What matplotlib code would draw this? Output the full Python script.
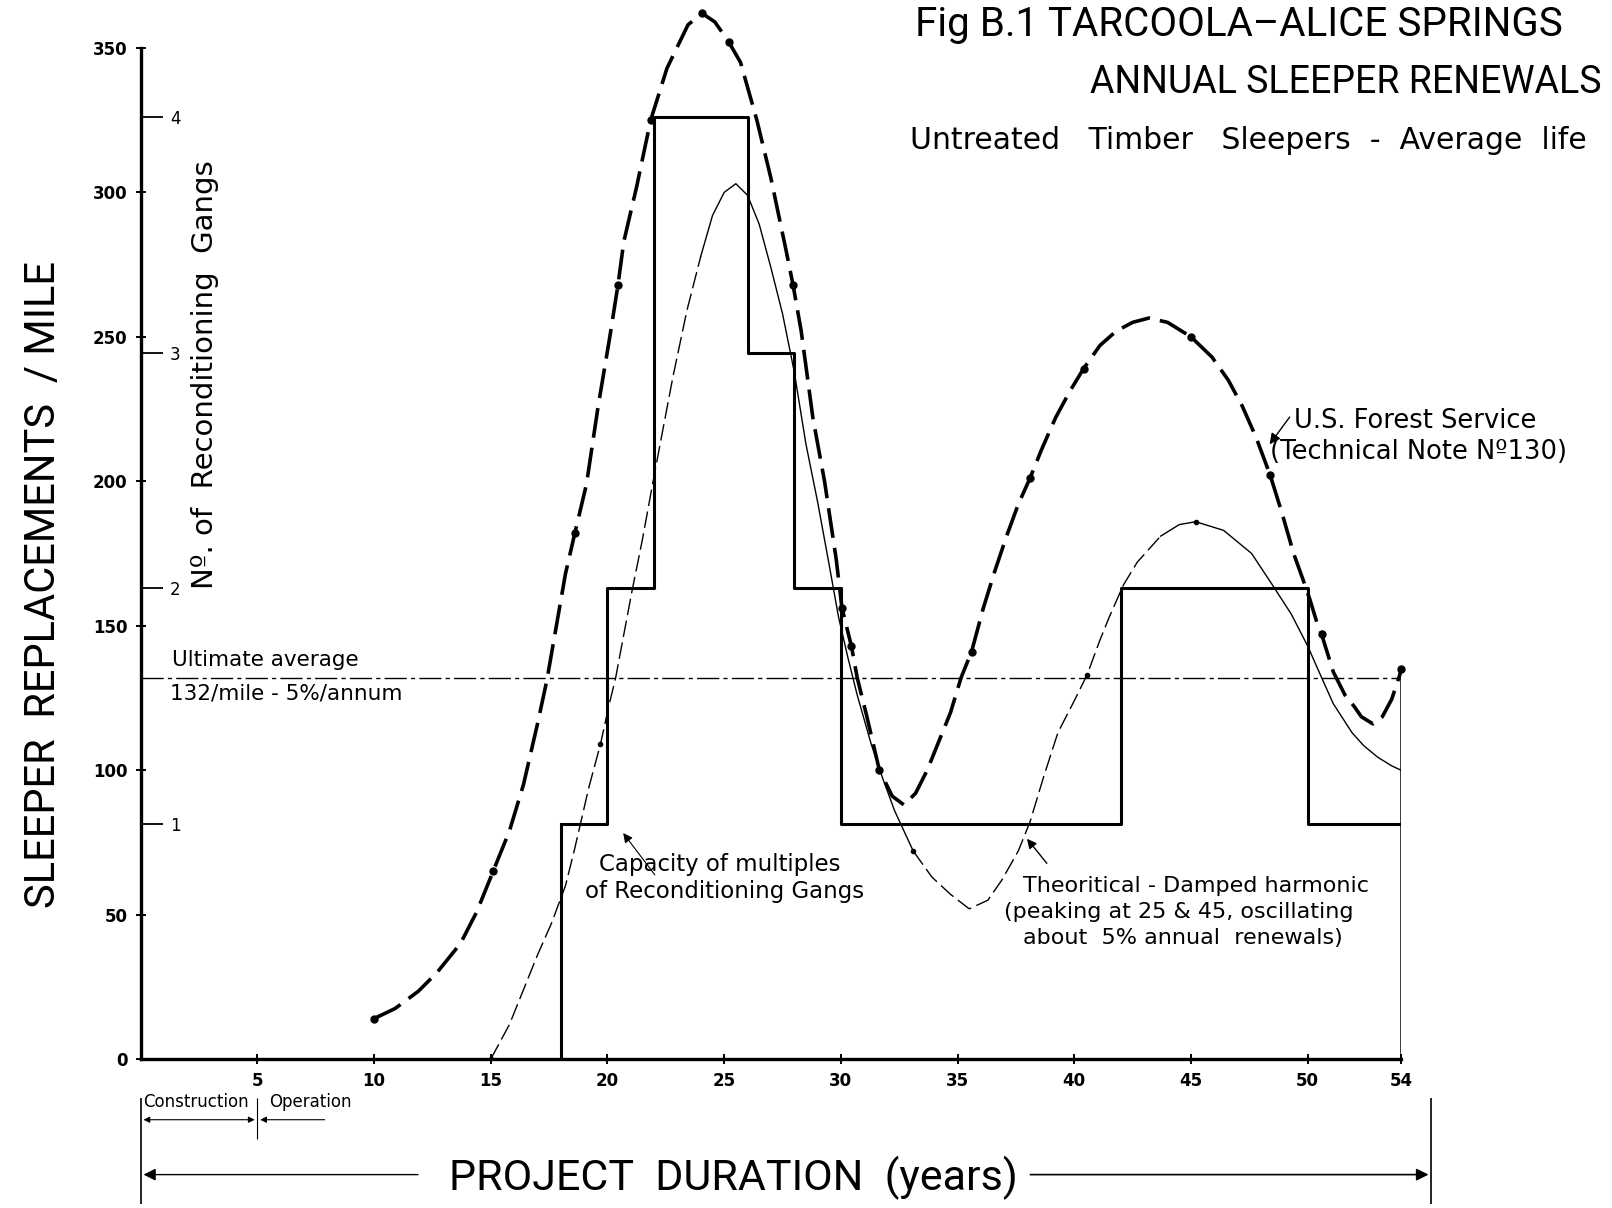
import matplotlib
matplotlib.use("Agg")
import matplotlib.pyplot as plt
import numpy as np

# ---------------- data ----------------
GANG = 81.5          # sleepers/mile handled by one reconditioning gang
ULT_AVG = 132        # ultimate average renewals per mile

step_years = [18, 20, 22, 26, 28, 30, 42, 50, 54]
step_gangs = [1, 2, 4, 3, 2, 1, 2, 1, 1]

# U.S. Forest Service curve (heavy dashed)
fs_x = [10.0, 10.9, 11.9, 12.7, 13.7, 14.4, 15.1, 15.8, 16.4, 17.0, 17.4, 18.2, 18.6,
        19.1, 19.6, 20.1, 20.45, 20.7, 21.25, 21.85, 22.55, 23.45, 24.05, 24.6, 25.2,
        25.7, 26.4, 27.0, 27.65, 27.95, 28.3, 28.8, 29.3, 29.8, 30.05, 30.45, 30.7,
        31.1, 31.65, 32.2, 32.7, 33.2, 33.7, 34.2, 34.7, 35.15, 35.6, 36.1, 36.6, 37.1,
        37.6, 38.1, 38.6, 39.2, 39.8, 40.4, 41.1, 41.8, 42.5, 43.2, 44.0, 45.0, 45.9,
        46.6, 47.2, 47.8, 48.4, 48.9, 49.4, 49.8, 50.1, 50.4, 50.6, 51.1, 51.6, 52.0,
        52.3, 52.8, 53.2, 53.6, 53.95, 54.0]
fs_y = [14, 17.5, 23.5, 30, 40, 51, 65, 79, 95, 116, 131, 168, 182,
        199, 226, 250, 268, 283, 302, 325, 343, 358, 362, 359, 352,
        345, 325, 305, 280, 268, 252, 222, 200, 173, 156, 143, 132,
        119, 100, 91, 88, 92, 100, 110, 120, 132, 141, 156, 169, 181,
        192, 201, 211, 222, 231, 239, 247, 252, 255, 256.5, 255, 250, 243,
        235, 226, 215, 202, 189, 175, 166, 159, 151, 147, 134, 126, 122,
        118.5, 116, 118.5, 124.5, 133, 135]
fs_dot_x = [10.0, 15.1, 18.6, 20.45, 21.85, 24.05, 25.2, 27.95, 30.05, 30.45, 31.65,
            35.6, 38.1, 40.4, 45.0, 48.4, 50.6, 54.0]
fs_dot_y = [14, 65, 182, 268, 325, 362, 352, 268, 156, 143, 100,
            141, 201, 239, 250, 202, 147, 135]

# Theoretical damped harmonic (thin line)
th_x = [15.0, 15.8, 16.4, 17.0, 17.6, 18.2, 18.6, 19.2, 19.7, 20.05, 20.35, 20.7, 21.05,
        21.5, 22.0, 22.8, 23.4, 24.0, 24.5, 25.0, 25.5, 26.0, 26.5, 27.0, 27.5, 28.0,
        28.5, 29.0, 29.5, 29.9, 30.3, 30.7, 31.3, 31.8, 32.3, 32.7, 33.1, 33.9, 34.7,
        35.5, 36.3, 36.9, 37.6, 38.1, 38.7, 39.3, 40.0, 40.55, 41.1, 41.5, 42.1, 42.7,
        43.7, 44.5, 45.2, 46.4, 47.6, 48.5, 49.3, 50.0, 50.6, 51.1, 51.5, 51.9, 52.4,
        53.0, 53.6, 54.0]
th_y = [0, 12, 24, 36, 47, 60, 73, 94, 109, 122, 132, 147, 162,
        180, 202, 236, 259, 278, 292, 300, 303, 299, 289, 274, 258, 238,
        213, 193, 171, 153, 139, 126, 109, 97, 86, 79, 72, 63, 57,
        52, 55, 62, 72, 82, 98, 113, 124, 133, 145, 153, 164, 172,
        181, 185, 186, 183, 175, 164, 154, 143, 132, 123, 118, 113, 108.5,
        104.5, 101.5, 100]
th_dot_x = [15.0, 19.7, 33.1, 40.55, 45.2]
th_dot_y = [0, 109, 72, 133, 186]

x_ticks = [5, 10, 15, 20, 25, 30, 35, 40, 45, 50, 54]
y_ticks = [0, 50, 100, 150, 200, 250, 300, 350]
gang_ticks = [1, 2, 3, 4]

# ---------------- drawing ----------------
TITLE = ["Roboto", "DejaVu Sans"]
HAND = ["DejaVu Sans"]

fig = plt.figure(figsize=(16.12, 12.08), dpi=100)
ax = fig.add_axes([0.0873, 0.1233, 0.7818, 0.8729])
ax.set_xlim(0, 54)
ax.set_ylim(0, 365)

for s in ("top", "right"):
    ax.spines[s].set_visible(False)
ax.spines["left"].set_bounds(0, 350)
ax.spines["left"].set_linewidth(2.4)
ax.spines["bottom"].set_linewidth(2.4)

ax.set_xticks(x_ticks)
ax.set_xticklabels([str(t) for t in x_ticks], fontsize=12, fontweight="bold")
ax.set_yticks(y_ticks)
ax.set_yticklabels([str(t) for t in y_ticks], fontsize=12, fontweight="bold")
ax.tick_params(axis="both", direction="inout", length=7, width=1.4, pad=6)

# gang scale on the same vertical axis, ticks pointing right
ax2 = ax.twinx()
ax2.set_ylim(0, 365 / GANG)
for s in ax2.spines.values():
    s.set_visible(False)
ax2.spines["right"].set_position(("axes", 0))
ax2.set_yticks(gang_ticks)
ax2.set_yticklabels([str(g) for g in gang_ticks], fontsize=12)
ax2.tick_params(axis="y", direction="out", length=16, width=1.3, pad=5)

# step function of gang capacity
step_vals = np.array(step_gangs) * GANG
ax.step(step_years, step_vals, where="post", color="black", lw=2.2)
ax.vlines(step_years[0], 0, step_vals[0], color="black", lw=2.2)
ax.vlines(step_years[-1], 0, fs_y[-1], color="black", lw=1.8)

# ultimate average line
ax.hlines(ULT_AVG, 0, 54, color="black", lw=1.0, linestyles=[(0, (16, 3, 3, 3))])

# U.S. Forest Service curve
ax.plot(fs_x, fs_y, color="black", lw=2.6, dashes=(8.3, 2.8), clip_on=False)
ax.plot(fs_dot_x, fs_dot_y, "o", color="black", ms=5, ls="none", clip_on=False)

# theoretical curve: dashed on rising parts, solid on falling parts
thx = np.array(th_x)
thy = np.array(th_y)
def seg(a, b):
    m = (thx >= a) & (thx <= b)
    return thx[m], thy[m]
for a, b in [(15.0, 24.0), (33.1, 43.7)]:
    xs, ys = seg(a, b)
    ax.plot(xs, ys, color="black", lw=1.0, dashes=(12, 4))
for a, b in [(24.0, 33.1), (43.7, 54.0)]:
    xs, ys = seg(a, b)
    ax.plot(xs, ys, color="black", lw=1.0)
ax.plot(th_dot_x, th_dot_y, "o", color="black", ms=3, ls="none")

# ---- annotations inside the plot ----
ax.text(1.35, 134.5, "Ultimate average", fontsize=15.5, family=HAND, va="bottom")
ax.text(1.25, 130, "132/mile - 5%/annum", fontsize=15.5, family=HAND, va="top")

ax.text(19.65, 67.5, "Capacity of multiples", fontsize=16.5, family=HAND, va="center")
ax.text(19.05, 58.0, "of Reconditioning Gangs", fontsize=16.5, family=HAND, va="center")
ax.annotate("", xy=(20.6, 79), xytext=(22.1, 63),
            arrowprops=dict(arrowstyle="-|>", color="black", lw=0.8, mutation_scale=14))

ax.text(37.8, 60, "Theoritical - Damped harmonic", fontsize=16, family=HAND, va="center")
ax.text(37.0, 51, "(peaking at 25 & 45, oscillating", fontsize=16, family=HAND, va="center")
ax.text(37.8, 42, "about  5% annual  renewals)", fontsize=16, family=HAND, va="center")
ax.annotate("", xy=(37.9, 77), xytext=(38.9, 67),
            arrowprops=dict(arrowstyle="-|>", color="black", lw=1.0, mutation_scale=14))

ax.text(49.4, 221, "U.S. Forest Service", fontsize=18.5, family=HAND, va="center")
ax.text(48.4, 210, "(Technical Note Nº130)", fontsize=18.5, family=HAND, va="center")
ax.annotate("", xy=(48.3, 212), xytext=(49.3, 223),
            arrowprops=dict(arrowstyle="-|>", color="black", lw=1.0, mutation_scale=16))

# ---- annotations below the axis ----
X_BAR_R = 55.3
ax.vlines([0, X_BAR_R], -13.5, -50, color="black", lw=1.2, clip_on=False)
ax.vlines(5, -13.5, -27.8, color="black", lw=0.8, clip_on=False)
ax.text(0.1, -18, "Construction", fontsize=12, family=HAND, va="bottom")
ax.annotate("", xy=(5, -21), xytext=(0, -21), annotation_clip=False,
            arrowprops=dict(arrowstyle="<|-|>", color="black", lw=0.8, mutation_scale=9))
ax.text(5.5, -18, "Operation", fontsize=12, family=HAND, va="bottom")
ax.annotate("", xy=(8.0, -21), xytext=(5, -21), annotation_clip=False,
            arrowprops=dict(arrowstyle="<|-", color="black", lw=0.8, mutation_scale=9))

ax.text(25.4, -41, "PROJECT  DURATION  (years)", fontsize=31, family=TITLE,
        ha="center", va="center")
ax.annotate("", xy=(0, -40), xytext=(12.0, -40), annotation_clip=False,
            arrowprops=dict(arrowstyle="-|>", color="black", lw=1.0, mutation_scale=18))
ax.annotate("", xy=(X_BAR_R, -40), xytext=(38.0, -40), annotation_clip=False,
            arrowprops=dict(arrowstyle="-|>", color="black", lw=1.2, mutation_scale=18))

# ---- axis titles and figure titles ----
fig.text(0.0267, 0.516, "SLEEPER  REPLACEMENTS  / MILE", rotation=90, fontsize=30,
         family=TITLE, ha="center", va="center")
fig.text(0.127, 0.69, "Nº. of  Reconditioning  Gangs", rotation=90, fontsize=21,
         family=HAND, ha="center", va="center")

fig.text(0.5676, 0.970, "Fig B.1 TARCOOLA\u2013ALICE SPRINGS", fontsize=29,
         family=TITLE, va="baseline")
fig.text(0.676, 0.9234, "ANNUAL SLEEPER RENEWALS", fontsize=27,
         family=TITLE, va="baseline")
fig.text(0.5645, 0.8767, "Untreated   Timber   Sleepers  -  Average  life", fontsize=21.5,
         family=HAND, va="baseline")

fig.savefig("out.png", dpi=100, facecolor="white")
